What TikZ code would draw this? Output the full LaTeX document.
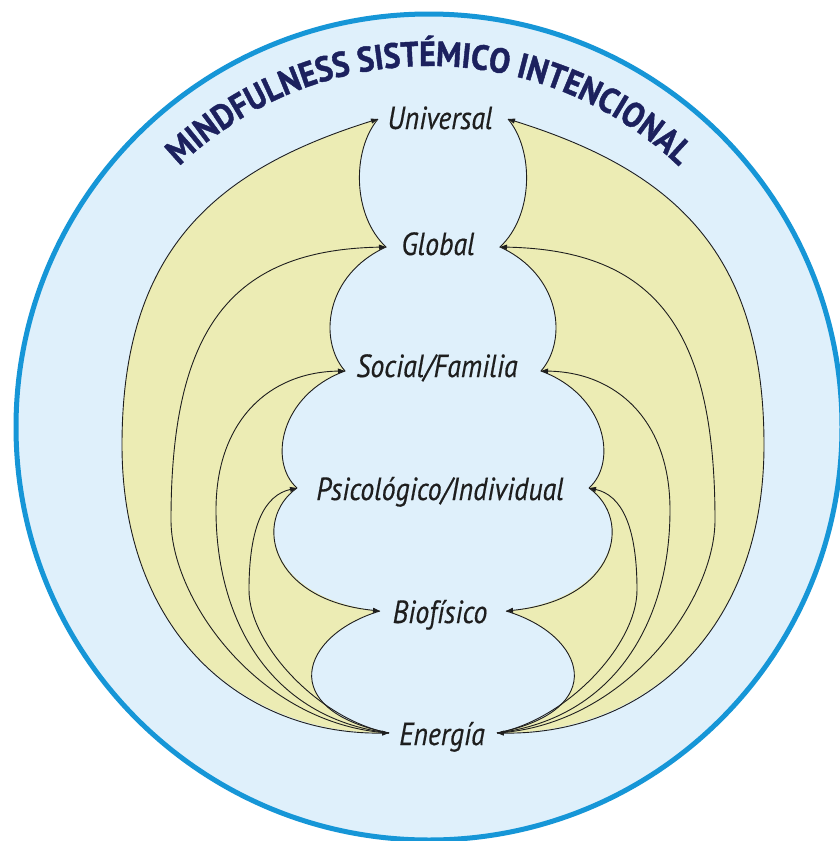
\documentclass[tikz,border=0pt]{standalone}
\usepackage{fontspec}
\setmainfont{PT Sans}
\newfontfamily\labelfont{PT Sans}[FakeStretch=0.87, FakeBold=0.4]
\newfontfamily\titlefont{PT Sans}[FakeStretch=0.9, FakeBold=1.2]
\usetikzlibrary{arrows.meta,decorations.text}
\definecolor{bgblue}{RGB}{223,240,251}
\definecolor{ringblue}{RGB}{22,150,215}
\definecolor{pale}{RGB}{236,236,180}
\definecolor{navy}{RGB}{28,33,94}
\definecolor{ink}{RGB}{30,30,30}
\tikzset{
  lab/.style={font=\labelfont\itshape\fontsize{32}{34}\selectfont, anchor=base, inner sep=0pt, text=ink},
  curve/.style={draw=ink, line width=0.9pt},
  tipstyle/.style={>={Triangle[length=7pt,width=5pt]}},
}
\newcommand\halfside[1]{%
  \coordinate (U#1) at (378,-119);
  \coordinate (G#1) at (386,-247);
  \coordinate (S#1) at (345,-371);
  \coordinate (P#1) at (297,-488);
  \coordinate (B#1) at (380,-611);
  \coordinate (E#1) at (389,-733);
  \coordinate (o#1) at (122,-445);
  \coordinate (g#1) at (171,-520);
  \coordinate (s#1) at (216,-510);
  \coordinate (p#1) at (249,-590);
  \fill[pale] (E#1) .. controls (240,-735) and (122,-630) .. (o#1)
     .. controls (122,-250) and (215,-170) .. (U#1)
     .. controls (352,-150) and (352,-215) .. (G#1)
     .. controls (325,-275) and (318,-340) .. (S#1)
     .. controls (280,-395) and (268,-462) .. (P#1)
     .. controls (252,-520) and (270,-600) .. (B#1)
     .. controls (300,-635) and (275,-710) .. (E#1) -- cycle;
  \draw[curve,tipstyle,<->] (E#1) .. controls (240,-735) and (122,-630) .. (o#1)
     .. controls (122,-250) and (215,-170) .. (U#1);
  \draw[curve,tipstyle,<-] (G#1) .. controls (230,-250) and (171,-330) .. (g#1)
     .. controls (171,-600) and (260,-725) .. (E#1);
  \draw[curve,tipstyle,<-] (S#1) .. controls (270,-372) and (216,-420) .. (s#1)
     .. controls (216,-620) and (270,-718) .. (E#1);
  \draw[curve,tipstyle,<-] (P#1) .. controls (265,-495) and (249,-525) .. (p#1)
     .. controls (249,-645) and (320,-720) .. (E#1);
  \draw[curve] (U#1) .. controls (352,-150) and (352,-215) .. (G#1)
     .. controls (325,-275) and (318,-340) .. (S#1)
     .. controls (280,-395) and (268,-462) .. (P#1);
  \draw[curve,tipstyle,->] (P#1) .. controls (252,-520) and (270,-600) .. (B#1);
  \draw[curve] (B#1) .. controls (300,-635) and (275,-710) .. (E#1);
}
\begin{document}
\begin{tikzpicture}[x=1pt,y=1pt]
\useasboundingbox (0,0) rectangle (839,-841);
\fill[white] (0,0) rectangle (839,-841);
\draw[fill=bgblue, draw=ringblue, line width=5pt] (429,-427) circle[radius=413];
\path[decorate, decoration={text along path, text color=navy,
   text={|\titlefont\bfseries\fontsize{35}{35}\selectfont|MINDFULNESS SISTÉMICO INTENCIONAL},
   text align=center}] (68,-427) arc[start angle=180, end angle=0, radius=361];
\halfside{L}
\begin{scope}[xshift=886pt, xscale=-1]
\halfside{R}
\end{scope}
\node[lab] (univ) at (440,-129) {Universal};
\node[lab] (glob) at (438,-255) {Global};
\node[lab] (soc) at (437,-377) {Social/Familia};
\node[lab] (psi) at (440,-500) {Psicológico/Individual};
\node[lab] (bio) at (440,-623) {Biofísico};
\node[lab] (ene) at (442,-745) {Energía};
\end{tikzpicture}
\end{document}
